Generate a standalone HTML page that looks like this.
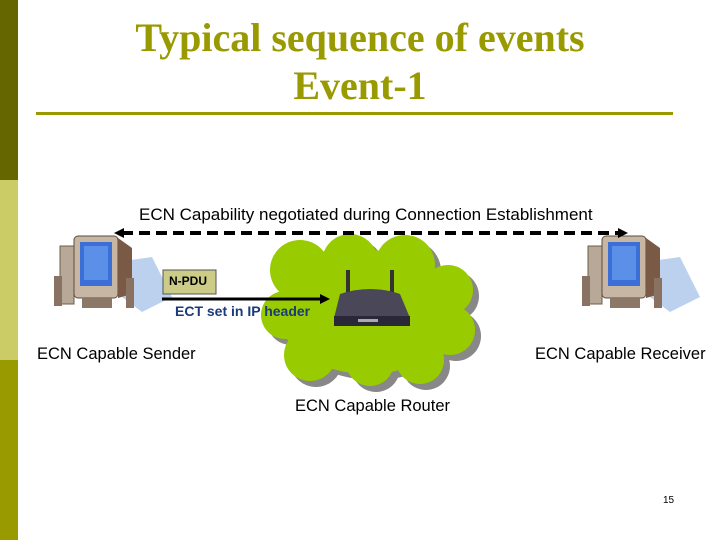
<!DOCTYPE html>
<html><head><style>
body{margin:0;width:720px;height:540px;position:relative;background:#fff;overflow:hidden;font-family:"Liberation Sans",sans-serif}
.t{position:absolute;white-space:nowrap}
</style></head><body>
<div style="position:absolute;left:0;top:0;width:18px;height:180px;background:#666600"></div>
<div style="position:absolute;left:0;top:180px;width:18px;height:180px;background:#cccc66"></div>
<div style="position:absolute;left:0;top:360px;width:18px;height:180px;background:#999900"></div>
<div class="t" style="left:0;width:720px;text-align:center;top:14px;font:bold 40px/48px 'Liberation Serif',serif;color:#999900">Typical sequence of events<br>Event-1</div>
<div style="position:absolute;left:36px;top:112px;width:637px;height:3px;background:#999900"></div>
<svg width="720" height="540" style="position:absolute;left:0;top:0">
<defs><g id="pc">
<path d="M20 30 L90 20 L110 60 L80 75 Z" fill="#aac6ea" opacity=".8" transform="translate(10,5)"/>
<rect x="8" y="14" width="14" height="58" fill="#b8a898" stroke="#6d5b4b"/>
<rect x="22" y="4" width="44" height="62" rx="4" fill="#c8b6a4" stroke="#5e4c3c"/>
<rect x="28" y="10" width="32" height="44" fill="#3b6fd8"/>
<rect x="32" y="14" width="24" height="34" fill="#5b8fe8"/>
<path d="M66 6 L80 16 L80 62 L66 66 Z" fill="#7a5a44"/>
<rect x="30" y="66" width="30" height="10" fill="#8c7866"/>
<rect x="2" y="44" width="8" height="30" fill="#8a7262"/>
<rect x="74" y="46" width="8" height="30" fill="#8a7262"/>
</g>
<g id="cl">
<circle cx="300" cy="270" r="30"/><circle cx="350" cy="262" r="28"/><circle cx="405" cy="265" r="30"/><circle cx="448" cy="290" r="25"/><circle cx="450" cy="330" r="25"/><circle cx="420" cy="360" r="24"/><circle cx="370" cy="362" r="24"/><circle cx="310" cy="355" r="26"/><circle cx="285" cy="315" r="24"/><ellipse cx="368" cy="312" rx="90" ry="62"/>
</g></defs>
<use href="#pc" x="52" y="232"/>
<use href="#pc" x="580" y="232"/>
<use href="#cl" fill="#888" transform="translate(6,6)"/>
<use href="#cl" fill="#99cc00"/>
<rect x="346" y="270" width="4" height="26" fill="#333"/><rect x="390" y="270" width="4" height="26" fill="#333"/>
<path d="M340 294 Q370 284 400 294 L410 318 L334 318 Z" fill="#4a4858"/>
<rect x="334" y="316" width="76" height="10" fill="#2a2838"/>
<rect x="358" y="319" width="20" height="3" fill="#aaa"/>
<line x1="122" y1="233" x2="620" y2="233" stroke="#000" stroke-width="4" stroke-dasharray="11,6"/>
<path d="M114 233 L124 228 L124 238 Z M628 233 L618 228 L618 238 Z"/>
<line x1="162" y1="299" x2="322" y2="299" stroke="#000" stroke-width="3"/>
<path d="M330 299 L320 294 L320 304 Z"/>
<rect x="163" y="270" width="53" height="24" fill="#cccc88" stroke="#555"/>
</svg>
<div class="t" style="left:169px;top:274px;font:bold 12px 'Liberation Sans',sans-serif">N-PDU</div>
<div class="t" style="left:175px;top:303px;font:bold 14px 'Liberation Sans',sans-serif;color:#1a3a7a">ECT set in IP header</div>
<div class="t" style="left:139px;top:205px;font-size:17px">ECN Capability negotiated during Connection Establishment</div>
<div class="t" style="left:37px;top:345px;font-size:16.5px">ECN Capable Sender</div>
<div class="t" style="left:535px;top:345px;font-size:16.5px">ECN Capable Receiver</div>
<div class="t" style="left:295px;top:397px;font-size:16.5px">ECN Capable Router</div>
<div class="t" style="left:663px;top:495px;font-size:10px">15</div>
</body></html>
